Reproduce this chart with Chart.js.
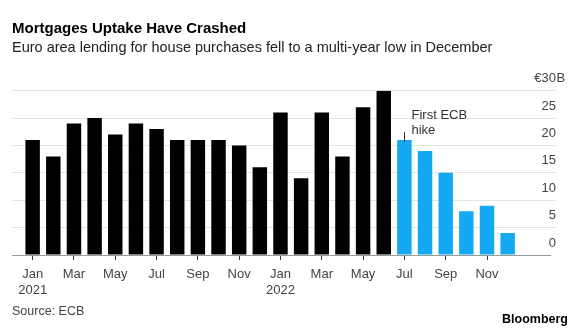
<!DOCTYPE html>
<html>
<head>
<meta charset="utf-8">
<script src="https://cdn.jsdelivr.net/npm/chart.js"></script>
<style>
  html, body { margin: 0; padding: 0; background: #fff; }
  #wrap { width: 580px; height: 332px; position: relative; }
</style>
</head>
<body>
<div id="wrap"><canvas id="chart"></canvas></div>
<script>
// Monthly lending for house purchases, euro area (EUR billions)
const months = ['Jan', 'Feb', 'Mar', 'Apr', 'May', 'Jun', 'Jul', 'Aug', 'Sep', 'Oct', 'Nov', 'Dec',
                'Jan', 'Feb', 'Mar', 'Apr', 'May', 'Jun', 'Jul', 'Aug', 'Sep', 'Oct', 'Nov', 'Dec'];
const years = ['2021', '', '', '', '', '', '', '', '', '', '', '',
               '2022', '', '', '', '', '', '', '', '', '', '', ''];
const lending = [21, 18, 24, 25, 22, 24, 23, 21, 21, 21, 20, 16,
                 26, 14, 26, 18, 27, 30, 21, 19, 15, 8, 9, 4];
const firstHikeIndex = 18; // Jul 2022
const yTicks = [0, 5, 10, 15, 20, 25, 30];

const FONT = '"Liberation Sans", Arial, Helvetica, sans-serif';

// bars after the first hike are drawn in blue
const barColors = lending.map((v, i) => i >= firstHikeIndex ? '#14a9f2' : '#000000');

const extras = {
  id: 'extras',
  afterDraw(chart) {
    const ctx = chart.ctx;
    const x = chart.scales.x;
    const y = chart.scales.y;
    ctx.save();

    // unit suffix after the top tick
    ctx.font = '13px ' + FONT;
    ctx.fillStyle = '#444';
    ctx.textAlign = 'left';
    ctx.textBaseline = 'middle';
    ctx.fillText('B', y.left + 6.5, y.getPixelForValue(30) - 12);

    // annotation for first ECB hike
    const ax = Math.round(x.getPixelForValue(firstHikeIndex)) + 0.5;
    const ay = y.getPixelForValue(lending[firstHikeIndex]);
    ctx.strokeStyle = '#333';
    ctx.lineWidth = 1;
    ctx.beginPath();
    ctx.moveTo(ax, ay - 8);
    ctx.lineTo(ax, ay + 2);
    ctx.stroke();
    ctx.fillStyle = '#333';
    ctx.fillText('First ECB', ax + 7, ay - 25);
    ctx.fillText('hike', ax + 7, ay - 10);

    // footer
    ctx.font = '12.5px ' + FONT;
    ctx.fillStyle = '#444';
    ctx.fillText('Source: ECB', 12, 312);
    ctx.font = 'bold 12.5px ' + FONT;
    ctx.fillStyle = '#000';
    ctx.textAlign = 'right';
    ctx.fillText('Bloomberg', 568, 320);
    ctx.restore();
  }
};

new Chart(document.getElementById('chart'), {
  type: 'bar',
  data: {
    datasets: [{
      data: lending.map((v, i) => ({ x: i, y: v })),
      backgroundColor: barColors,
      borderWidth: 0,
      categoryPercentage: 1,
      barPercentage: 0.7
    }]
  },
  options: {
    responsive: true,
    maintainAspectRatio: false,
    animation: false,
    layout: { padding: { left: 12, right: 0, top: 0, bottom: 37 } },
    plugins: {
      legend: { display: false },
      tooltip: { enabled: false },
      title: {
        display: true,
        text: 'Mortgages Uptake Have Crashed',
        align: 'start',
        color: '#000',
        font: { family: FONT, size: 15, weight: 'bold', lineHeight: 1.2 },
        padding: { top: 19.5, bottom: 0 }
      },
      subtitle: {
        display: true,
        text: 'Euro area lending for house purchases fell to a multi-year low in December',
        align: 'start',
        color: '#222',
        font: { family: FONT, size: 14.5, lineHeight: 1.2 },
        padding: { top: 1.8, bottom: 34 }
      }
    },
    scales: {
      x: {
        type: 'linear',
        offset: false,
        min: -1,
        max: 25.05,
        afterBuildTicks: (scale) => {
          scale.ticks = months.map((m, i) => ({ value: i })).filter(t => t.value % 2 === 0);
        },
        afterFit: (scale) => { scale.height = 40; },
        ticks: {
          color: '#444',
          font: { family: FONT, size: 13, lineHeight: 1.25 },
          padding: 6,
          maxRotation: 0,
          autoSkip: false,
          callback: (v) => years[v] ? [months[v], years[v]] : months[v]
        },
        grid: {
          offset: false,
          drawOnChartArea: false,
          drawTicks: true,
          tickLength: 5,
          tickColor: '#333'
        },
        border: { display: true, color: '#999', width: 1 }
      },
      y: {
        position: 'right',
        min: 0,
        max: 30,
        afterBuildTicks: (scale) => {
          scale.ticks = yTicks.map(v => ({ value: v }));
        },
        afterFit: (scale) => { scale.width = 30; },
        ticks: {
          color: '#444',
          font: { family: FONT, size: 13 },
          mirror: true,
          crossAlign: 'near',
          padding: 6,
          labelOffset: -12,
          callback: (v) => v === 30 ? '€30' : String(v)
        },
        grid: {
          color: (c) => c.tick && c.tick.value === 0 ? 'rgba(0,0,0,0)' : '#e3e3e3',
          drawTicks: true,
          tickLength: 6
        },
        border: { display: false }
      }
    }
  },
  plugins: [extras]
});
</script>
</body>
</html>
